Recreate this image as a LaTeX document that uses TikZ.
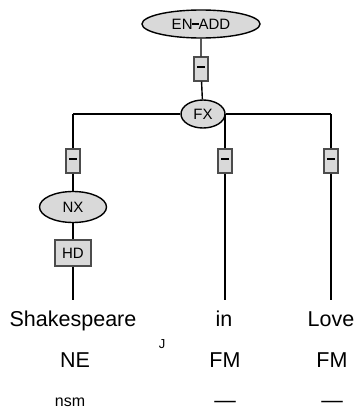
\documentclass[tikz,border=0pt]{standalone}
\usepackage{fontspec}
\setmainfont{Liberation Sans}
\usetikzlibrary{shapes.geometric}

\newcommand{\bardash}[1]{\raisebox{0.28em}{\rule{#1}{2.2pt}}}

\tikzset{
  lab/.style={ellipse, draw, fill=black!15, inner sep=0pt, font=\fontsize{15}{15}\selectfont},
  rel/.style={draw=black!70, fill=black!15, inner sep=0pt, minimum width=14pt, minimum height=24pt, font=\fontsize{15}{15}\selectfont},
  word/.style={anchor=base, inner sep=0pt, font=\fontsize{21.5}{21.5}\selectfont},
}

\begin{document}
\begin{tikzpicture}[x=1pt, y=-1pt, line width=1.4pt]
  \useasboundingbox (0,0) rectangle (354,412);
  % Knoten oben
  \node[lab, minimum width=118pt, minimum height=28pt] (enadd) at (201,24) {EN\kern-0.5pt\bardash{7pt}\kern-0.5pt ADD};
  \node[rel] (r0) at (201,69) {\bardash{8pt}};
  \node[lab, minimum width=44pt, minimum height=28pt] (fx) at (203,114) {FX};
  % Verzweigungspunkte
  \coordinate (jl) at (73,114);
  \coordinate (jr) at (331,114);
  \coordinate (jm) at (225,114);
  % drei Zweige
  \node[rel] (r1) at (73,161) {\bardash{8pt}};
  \node[rel] (r2) at (225,161) {\bardash{8pt}};
  \node[rel] (r3) at (331,161) {\bardash{8pt}};
  \node[lab, minimum width=67pt, minimum height=31pt] (nx) at (73,207) {NX};
  \node[rel, minimum width=36pt, minimum height=26pt] (hd) at (73,253) {HD};
  \coordinate (el) at (73,300);
  \coordinate (em) at (225,300);
  \coordinate (er) at (331,300);
  % Linien
  \draw (enadd) -- (r0) -- (fx);
  \draw (jl) -- (fx.west);
  \draw (fx.east) -- (jr);
  \draw (jm) -- (r2) -- (em);
  \draw (jl) -- (r1) -- (nx) -- (hd) -- (el);
  \draw (jr) -- (r3) -- (er);
  % Woerter
  \node[word] (w1) at (73,326) {Shakespeare};
  \node[word] (w2) at (224,326) {in};
  \node[word] (w3) at (331,326) {Love};
  \node[word] (t1) at (75,367) {NE};
  \node[word] (t2) at (225,367) {FM};
  \node[word] (t3) at (332,367) {FM};
  \node[word, font=\fontsize{16}{16}\selectfont] (m1) at (70,406) {nsm};
  \node[word] (m2) at (225,407) {—};
  \node[word] (m3) at (332,407) {—};
  \node[anchor=base, inner sep=0pt, font=\fontsize{13}{13}\selectfont] (jj) at (162,348) {J};
\end{tikzpicture}
\end{document}
